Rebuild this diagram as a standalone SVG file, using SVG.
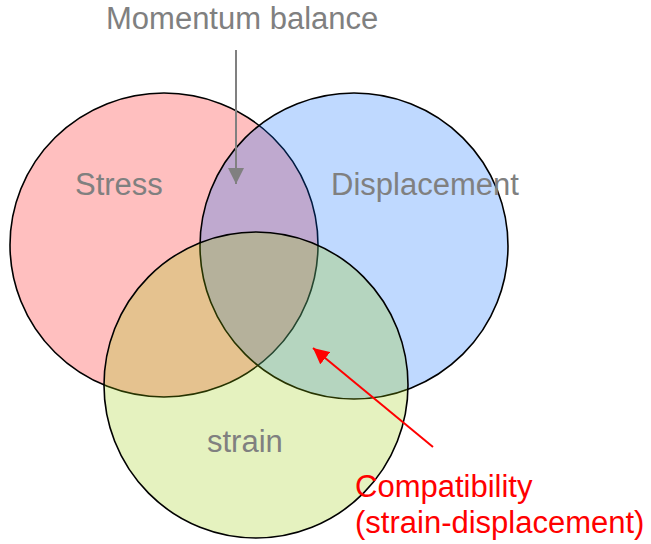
<svg xmlns="http://www.w3.org/2000/svg" width="651" height="544" viewBox="0 0 651 544">
<style>
.set{stroke:#000;stroke-width:1.6;fill-opacity:0.25}
.lbl{font-family:"Liberation Sans",Arial,sans-serif;font-size:31px;fill:#808080}
.red{font-family:"Liberation Sans",Arial,sans-serif;font-size:31px;fill:#FF0000}
</style>
<defs>
<marker id="ahGray" markerWidth="8" markerHeight="8" refX="8" refY="4" orient="auto" markerUnits="strokeWidth">
<path d="M0,0 L8,4 L0,8 z" fill="#808080"/>
</marker>
<marker id="ahRed" markerWidth="8" markerHeight="8" refX="8" refY="4" orient="auto" markerUnits="strokeWidth">
<path d="M0,0 L8,4 L0,8 z" fill="#FF0000"/>
</marker>
</defs>
<rect width="651" height="544" fill="#fff"/>
<g id="stress">
<ellipse class="set" cx="164" cy="245" rx="154" ry="152" fill="#FF0000"/>
<text class="lbl" x="75" y="195">Stress</text>
</g>
<g id="displacement">
<ellipse class="set" cx="354" cy="246" rx="154" ry="153" fill="#0066FF"/>
<text class="lbl" x="331" y="195">Displacement</text>
</g>
<g id="strain">
<ellipse class="set" cx="256" cy="385" rx="152" ry="153" fill="#99CC00"/>
<text class="lbl" x="207" y="452">strain</text>
</g>
<g id="momentum">
<text class="lbl" x="106" y="29">Momentum balance</text>
</g>
<g id="compatibility">
<text class="red" x="355" y="497">Compatibility</text>
<text class="red" x="355" y="533">(strain-displacement)</text>
</g>
<g id="connectors">
<line x1="236" y1="50" x2="236" y2="184" stroke="#808080" stroke-width="2" marker-end="url(#ahGray)"/>
<line x1="433" y1="447" x2="313" y2="348" stroke="#FF0000" stroke-width="2" marker-end="url(#ahRed)"/>
</g>
</svg>
